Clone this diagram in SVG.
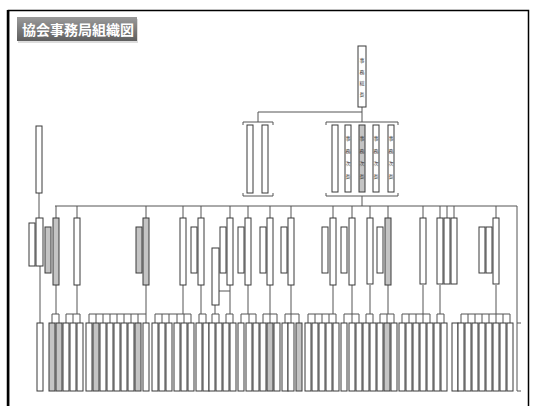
<svg xmlns="http://www.w3.org/2000/svg" width="533" height="406" viewBox="0 0 533 406">
<defs>
<linearGradient id="tg" x1="0" y1="0" x2="0" y2="1">
<stop offset="0" stop-color="#9a9a9a"/><stop offset="1" stop-color="#5e5e5e"/>
</linearGradient>
<style>
.b{fill:#fff;stroke:#3a3a3a;stroke-width:1}
.g{fill:#c4c4c4;stroke:#3a3a3a;stroke-width:1}
.ln{fill:none;stroke:#555;stroke-width:1}
.t{font-family:"Noto Sans CJK JP","Noto Sans",sans-serif;font-size:5px;fill:#333;text-anchor:middle}
.title{font-family:"Noto Sans CJK JP","Noto Sans",sans-serif;font-size:14px;font-weight:bold;fill:#fff}
</style>
</defs>
<rect width="533" height="406" fill="#fff"/>
<path d="M8.5,406 V10.5 H528.5 V406" fill="none" stroke="#000" stroke-width="1.5"/>
<line x1="8" y1="10" x2="8" y2="406" stroke="#000" stroke-width="2.5"/>
<g id="title">
<rect x="18" y="19" width="120" height="24" fill="#bbb" opacity="0.5"/>
<rect x="17" y="17" width="120" height="24" fill="url(#tg)"/>
<text class="title" x="22" y="35">協会事務局組織図</text>
</g>
<g id="connectors" class="ln">
<path d="M362,107 V122 M258,112 H362 M258,112 V122 M362,196 V206"/>
<path d="M243,125 V122 H273 V125 M243,193 V196 H273 V193"/>
<path d="M326,125 V122 H398 V125 M326,193 V196 H398 V193"/>
<path d="M55,206 H517"/>
<path d="M39,193 V218 M40,266 V323"/>
<path d="M56,206 V218 M77,206 V218 M146,206 V218 M183,206 V218 M201,206 V218 M230,206 V218 M248,206 V218 M270,206 V218 M291,206 V218 M333,206 V218 M352,206 V218 M370,206 V218 M388,206 V218 M423,206 V218 M440,206 V218 M447,206 V218 M454,206 V218 M496,206 V218 M517,206 V391 H521 M517,323 H521"/>
<path d="M219,291 H230"/>
<path d="M56,285 V314 M52,323 V314 H59 V323"/>
<path d="M77,285 V314 M66,323 V314 H80 V323 M73,314 V323"/>
<path d="M146,285 V314 M89,323 V314 H146 V323 M96,314 V323 M103,314 V323 M110,314 V323 M117,314 V323 M124,314 V323 M131,314 V323 M138,314 V323"/>
<path d="M183,285 V314 M155,323 V314 H191 V323 M162,314 V323 M169,314 V323 M177,314 V323 M184,314 V323"/>
<path d="M201,285 V314 M199,323 V314 H206 V323"/>
<path d="M215,305 V314 M212,323 V314 H219 V323"/>
<path d="M230,285 V314 M226,323 V314 H233 V323"/>
<path d="M248,285 V314 M241,323 V314 H256 V323 M249,314 V323"/>
<path d="M270,285 V314 M263,323 V314 H277 V323 M270,314 V323"/>
<path d="M291,285 V314 M285,323 V314 H299 V323 M291,314 V323"/>
<path d="M333,285 V314 M308,323 V314 H336 V323 M315,314 V323 M322,314 V323 M329,314 V323"/>
<path d="M352,285 V314 M344,323 V314 H359 V323 M352,314 V323"/>
<path d="M370,285 V314 M366,323 V314 H373 V323"/>
<path d="M388,285 V314 M380,323 V314 H394 V323 M387,314 V323"/>
<path d="M423,285 V314 M402,323 V314 H430 V323 M409,314 V323 M416,314 V323 M423,314 V323"/>
<path d="M440,285 V314 M437,323 V314 H444 V323"/>
<path d="M496,285 V314 M461,323 V314 H510 V323 M468,314 V323 M475,314 V323 M482,314 V323 M489,314 V323 M496,314 V323 M503,314 V323"/>
</g>
<g id="n-top"><rect class="b" x="358" y="46" width="8" height="61"/>
<text class="t" x="362" y="62">事</text><text class="t" x="362" y="74">務</text><text class="t" x="362" y="85">総</text><text class="t" x="362" y="96">長</text></g>
<g id="n-left-group"><rect class="b" x="247" y="125" width="6" height="68"/><rect class="b" x="262" y="125" width="6" height="68"/></g>
<g id="n-right-group">
<rect class="b" x="332" y="125" width="6" height="67"/>
<rect class="b" x="345" y="125" width="6" height="67"/>
<rect class="g" x="359" y="125" width="6" height="67"/>
<rect class="b" x="373" y="125" width="6" height="67"/>
<rect class="b" x="388" y="125" width="6" height="67"/>
<g class="t"><text x="348" y="140">事</text><text x="348" y="153">務</text><text x="348" y="165">次</text><text x="348" y="178">長</text>
<text x="362" y="140">事</text><text x="362" y="153">務</text><text x="362" y="165">次</text><text x="362" y="178">長</text>
<text x="376" y="140">事</text><text x="376" y="153">務</text><text x="376" y="165">次</text><text x="376" y="178">長</text>
<text x="391" y="140">事</text><text x="391" y="153">務</text><text x="391" y="165">次</text><text x="391" y="178">長</text></g>
</g>
<g id="n-left-chain"><rect class="b" x="36" y="126" width="6" height="67"/><rect class="b" x="36" y="218" width="7" height="48"/><rect class="b" x="29" y="223" width="6" height="43"/></g>
<g id="n-level2">
<rect class="g" x="53" y="218" width="6" height="67"/><rect class="g" x="45" y="227" width="6" height="46"/>
<rect class="b" x="74" y="218" width="6" height="67"/>
<rect class="g" x="143" y="218" width="6" height="67"/><rect class="g" x="136" y="227" width="6" height="46"/>
<rect class="b" x="180" y="218" width="6" height="67"/>
<rect class="b" x="198" y="218" width="6" height="67"/><rect class="b" x="191" y="227" width="6" height="46"/>
<rect class="b" x="227" y="218" width="6" height="67"/><rect class="b" x="220" y="227" width="6" height="46"/><rect class="b" x="212" y="248" width="7" height="57"/>
<rect class="b" x="245" y="218" width="6" height="67"/><rect class="b" x="238" y="227" width="6" height="46"/>
<rect class="b" x="267" y="218" width="6" height="67"/><rect class="b" x="260" y="227" width="6" height="46"/>
<rect class="b" x="288" y="218" width="6" height="67"/><rect class="b" x="281" y="227" width="6" height="46"/>
<rect class="b" x="330" y="218" width="6" height="67"/><rect class="b" x="322" y="227" width="6" height="46"/>
<rect class="b" x="349" y="218" width="6" height="67"/><rect class="b" x="341" y="227" width="6" height="46"/>
<rect class="b" x="367" y="218" width="6" height="66"/><rect class="b" x="377" y="227" width="6" height="46"/>
<rect class="g" x="385" y="218" width="6" height="67"/>
<rect class="b" x="420" y="218" width="6" height="66"/>
<rect class="b" x="437" y="218" width="6" height="66"/><rect class="b" x="444" y="218" width="6" height="66"/><rect class="b" x="451" y="218" width="6" height="66"/>
<rect class="b" x="493" y="218" width="6" height="66"/><rect class="b" x="479" y="227" width="6" height="46"/><rect class="b" x="486" y="227" width="6" height="46"/>
</g>
<g id="n-level3">
<rect class="b" x="37" y="323" width="6" height="68"/>
<rect class="g" x="49" y="323" width="6" height="68"/><rect class="g" x="56" y="323" width="6" height="68"/>
<rect class="b" x="63" y="323" width="6" height="68"/><rect class="b" x="70" y="323" width="6" height="68"/><rect class="b" x="77" y="323" width="6" height="68"/>
<rect class="b" x="86" y="323" width="6" height="68"/><rect class="g" x="93" y="323" width="6" height="68"/><rect class="b" x="100" y="323" width="6" height="68"/><rect class="b" x="107" y="323" width="6" height="68"/><rect class="b" x="114" y="323" width="6" height="68"/><rect class="b" x="121" y="323" width="6" height="68"/><rect class="b" x="128" y="323" width="6" height="68"/><rect class="g" x="135" y="323" width="6" height="68"/><rect class="b" x="143" y="323" width="6" height="68"/>
<rect class="b" x="152" y="323" width="6" height="68"/><rect class="b" x="159" y="323" width="6" height="68"/><rect class="b" x="166" y="323" width="6" height="68"/><rect class="b" x="174" y="323" width="6" height="68"/><rect class="b" x="181" y="323" width="6" height="68"/><rect class="b" x="188" y="323" width="6" height="68"/>
<rect class="b" x="196" y="323" width="6" height="68"/><rect class="b" x="203" y="323" width="6" height="68"/>
<rect class="b" x="209" y="323" width="6" height="68"/><rect class="b" x="216" y="323" width="6" height="68"/>
<rect class="b" x="223" y="323" width="6" height="68"/><rect class="b" x="230" y="323" width="6" height="68"/>
<rect class="b" x="238" y="323" width="6" height="68"/><rect class="b" x="246" y="323" width="6" height="68"/><rect class="b" x="253" y="323" width="6" height="68"/>
<rect class="b" x="260" y="323" width="6" height="68"/><rect class="g" x="267" y="323" width="6" height="68"/><rect class="b" x="274" y="323" width="6" height="68"/>
<rect class="b" x="282" y="323" width="6" height="68"/><rect class="b" x="288" y="323" width="6" height="68"/><rect class="g" x="296" y="323" width="6" height="68"/>
<rect class="b" x="305" y="323" width="6" height="68"/><rect class="b" x="312" y="323" width="6" height="68"/><rect class="b" x="319" y="323" width="6" height="68"/><rect class="b" x="326" y="323" width="6" height="68"/><rect class="b" x="333" y="323" width="6" height="68"/>
<rect class="b" x="341" y="323" width="6" height="68"/><rect class="b" x="349" y="323" width="6" height="68"/><rect class="b" x="356" y="323" width="6" height="68"/>
<rect class="b" x="363" y="323" width="6" height="68"/><rect class="b" x="370" y="323" width="6" height="68"/>
<rect class="b" x="377" y="323" width="6" height="68"/><rect class="g" x="384" y="323" width="6" height="68"/><rect class="b" x="391" y="323" width="6" height="68"/>
<rect class="b" x="399" y="323" width="6" height="68"/><rect class="b" x="406" y="323" width="6" height="68"/><rect class="b" x="413" y="323" width="6" height="68"/><rect class="b" x="420" y="323" width="6" height="68"/><rect class="b" x="427" y="323" width="6" height="68"/>
<rect class="b" x="434" y="323" width="6" height="68"/><rect class="b" x="441" y="323" width="6" height="68"/>
<rect class="b" x="452" y="323" width="6" height="68"/><rect class="b" x="458" y="323" width="6" height="68"/><rect class="b" x="465" y="323" width="6" height="68"/><rect class="b" x="472" y="323" width="6" height="68"/><rect class="b" x="479" y="323" width="6" height="68"/><rect class="b" x="486" y="323" width="6" height="68"/><rect class="b" x="493" y="323" width="6" height="68"/><rect class="b" x="500" y="323" width="6" height="68"/><rect class="b" x="507" y="323" width="6" height="68"/>
</g>
</svg>
